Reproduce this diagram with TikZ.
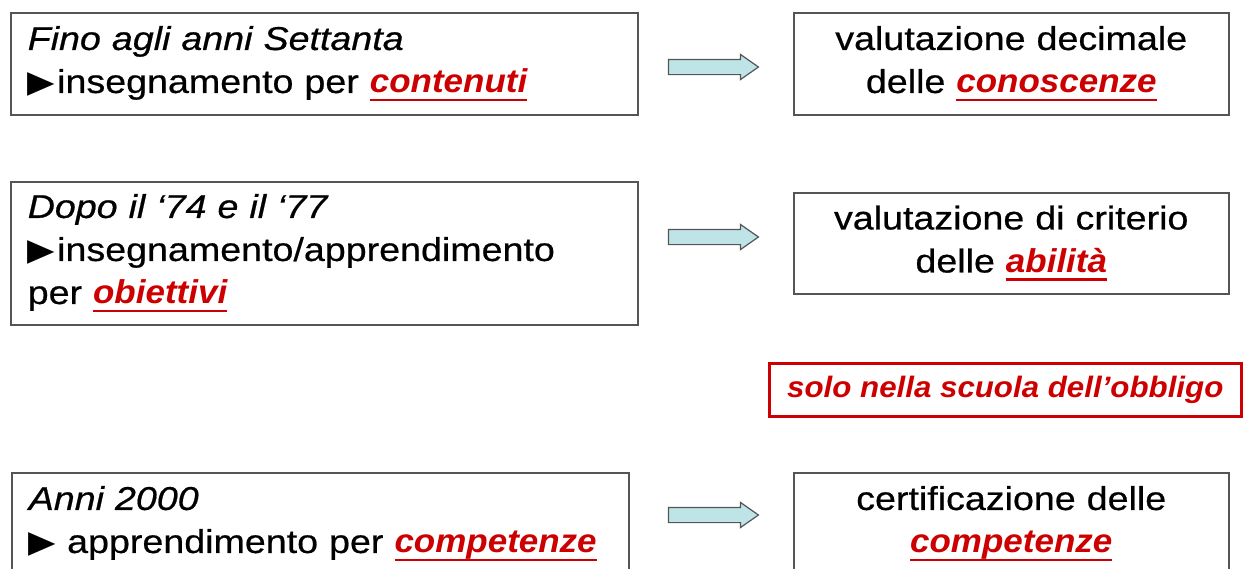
\documentclass[tikz,border=0pt]{standalone}
\usepackage{fontspec}
\setmainfont[FakeStretch=1.14,FakeBold=0.6]{Liberation Sans}
\newfontfamily\kwfont[FakeStretch=1.06]{Liberation Sans}
\newfontfamily\symfont[FakeStretch=1.15]{DejaVu Sans}
\usetikzlibrary{shapes.arrows}
\definecolor{redtxt}{RGB}{204,0,0}
\definecolor{arrowfill}{RGB}{190,228,232}
\definecolor{boxgray}{RGB}{85,85,85}
\newcommand{\kw}[1]{\textcolor{redtxt}{\kwfont\bfseries\itshape\setbox0\hbox{#1}\rlap{\rule[-8.5pt]{\wd0}{2.8pt}}\box0}}
\newcommand{\tri}{{\fontsize{31}{31}\symfont ▶}}
\begin{document}
\begin{tikzpicture}[x=1pt,y=-1pt,
  box/.style={draw=boxgray, line width=1.5pt, rectangle, inner sep=0pt,
    font=\fontsize{33}{43}\selectfont},
  leftbox/.style={box, anchor=north west, align=left, inner xsep=17pt,
    text width=#1-34, minimum width=#1},
  rightbox/.style={box, anchor=north west, align=center,
    text width=430, minimum width=435},
  bigarrow/.style={shape=single arrow, draw=boxgray, line width=1.2pt,
    fill=arrowfill, minimum height=90, inner xsep=0pt, inner ysep=7pt,
    single arrow head extend=5, single arrow tip angle=70},
  note/.style={draw=redtxt, line width=2.5pt, rectangle, anchor=north west,
    minimum width=472, minimum height=53, inner sep=0pt,
    text=redtxt, font=\fontsize{29.5}{36}\selectfont\kwfont\bfseries\itshape}
]
\useasboundingbox (0,0) rectangle (1243,568);
\clip (0,0) rectangle (1243,568);

\node[leftbox=627, minimum height=102] (l1) at (10,12)
  {{\itshape Fino agli anni Settanta}\\ \tri\hspace{2pt}insegnamento per \kw{contenuti}};
\node[leftbox=627, minimum height=143] (l2) at (10,181)
  {{\itshape Dopo il ‘74 e il ‘77}\\ \tri\hspace{2pt}insegnamento/apprendimento\\ per \kw{obiettivi}};
\node[leftbox=617, minimum height=102] (l3) at (11,472)
  {{\itshape Anni 2000}\\ \tri{} apprendimento per \kw{competenze}};

\node[rightbox, minimum height=102] (r1) at (793,12)
  {valutazione decimale\\ delle \kw{conoscenze}};
\node[rightbox, minimum height=101] (r2) at (793,192)
  {valutazione di criterio\\ delle \kw{abilità}};
\node[rightbox, minimum height=102] (r3) at (793,472)
  {certificazione delle\\ \kw{competenze}};

\node[note] (n) at (768,362) {solo nella scuola dell’obbligo};

\node[bigarrow] (a1) at (708,67) {};
\node[bigarrow] (a2) at (708,237) {};
\node[bigarrow] (a3) at (708,515) {};
\end{tikzpicture}
\end{document}
